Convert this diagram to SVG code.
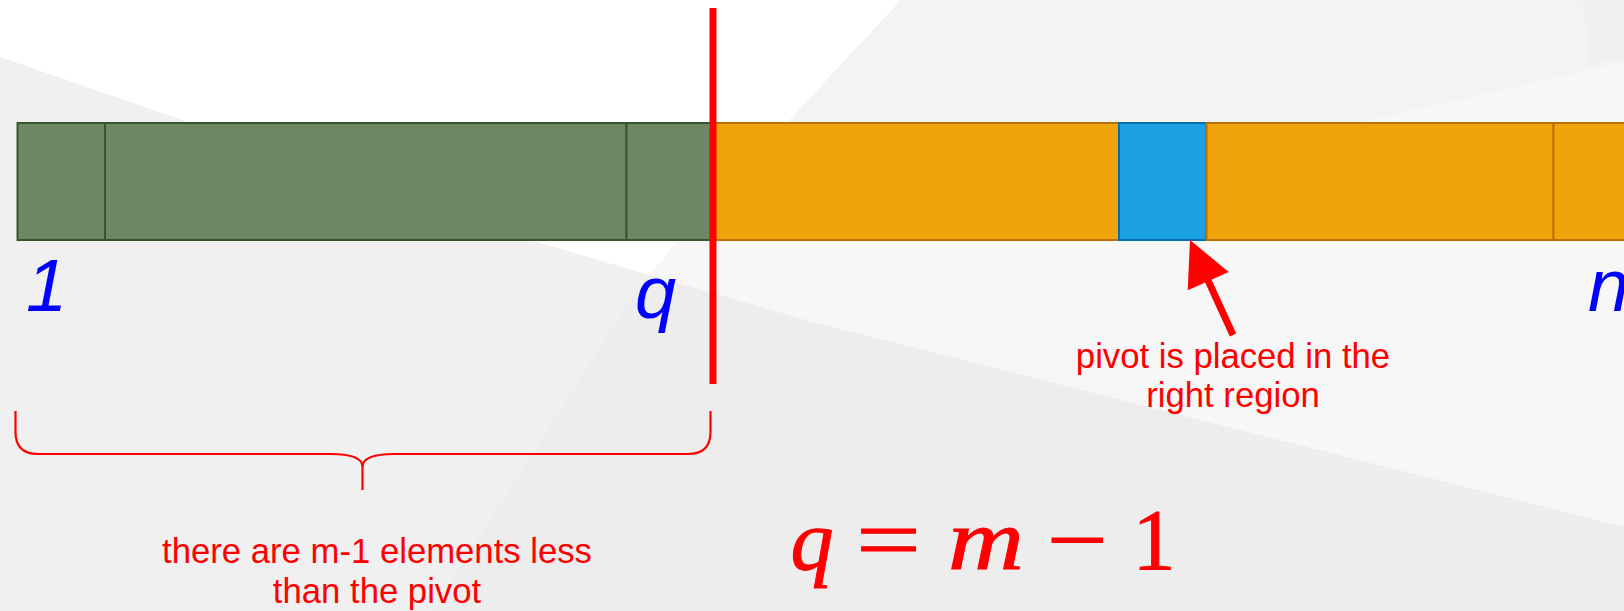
<svg xmlns="http://www.w3.org/2000/svg" width="1624" height="611" viewBox="0 0 1624 611">
<style>
.g{fill:#6d8764;stroke:#3a5431;stroke-width:2}
.o{fill:#f0a30a;stroke:#bd7000;stroke-width:2}
.b{fill:#1ba1e2;stroke:#006eaf;stroke-width:2}
.idx{font-family:"Liberation Sans",Arial,sans-serif;font-style:italic;font-size:74px;fill:#0000ff}
.note{font-family:"Liberation Sans",Arial,sans-serif;font-size:34.7px;fill:#ff0000;text-anchor:middle}
.eq{font-family:"Liberation Serif","Times New Roman",serif;font-size:86px;fill:#ff0000;stroke:#ff0000;stroke-width:1}
.red{stroke:#ff0000;fill:none}
</style>
<g id="background">
<rect x="0" y="0" width="1624" height="611" fill="#f0f0f0"/>
<polygon points="0,0 901,0 787,123 678,240 650,275 533,241 0,57" fill="#ffffff"/>
<polygon points="901,0 1624,0 1624,62 1356,123 787,123" fill="#f3f3f3"/>
<polygon points="1583,0 1624,0 1624,58 1591,64" fill="#f0f0f0"/>
<polygon points="787,123 1356,123 1624,62 1624,527 812,322 650,275 678,240" fill="#f7f7f7"/>
<polygon points="650,275 812,322 1624,527 1624,611 432,611 630,300" fill="#ededed"/>
</g>
<g id="array">
<g id="cell-g1"><rect class="g" x="17.5" y="123" width="87.5" height="117"/></g>
<g id="cell-g2"><rect class="g" x="105" y="123" width="521.5" height="117"/></g>
<g id="cell-g3"><rect class="g" x="626.5" y="123" width="86.5" height="117"/></g>
<g id="cell-o1"><rect class="o" x="713" y="123" width="406" height="117"/></g>
<g id="cell-pivot"><rect class="b" x="1119" y="123" width="87.5" height="117"/></g>
<g id="cell-o2"><rect class="o" x="1206.5" y="123" width="347" height="117"/></g>
<g id="cell-o3"><rect class="o" x="1553.5" y="123" width="87" height="117"/></g>
</g>
<g id="divider"><line class="red" x1="713" y1="8" x2="713" y2="384" stroke-width="7"/></g>
<g id="label-1"><text class="idx" x="26" y="311">1</text></g>
<g id="label-q"><text class="idx" x="635" y="318">q</text></g>
<g id="label-n"><text class="idx" x="1588" y="311">n</text></g>
<g id="brace"><path class="red" stroke-width="2.2" d="M15.5 411 V432 Q15.5 454 38 454 H331 Q362.5 454 362.5 467 V490 M362.5 467 Q362.5 454 394 454 H688 Q710.5 454 710.5 432 V411"/></g>
<g id="note-less"><text class="note"><tspan x="377" y="563">there are m-1 elements less</tspan><tspan x="377" y="603">than the pivot</tspan></text></g>
<g id="note-pivot"><text class="note"><tspan x="1233" y="368">pivot is placed in the</tspan><tspan x="1233" y="407">right region</tspan></text></g>
<g id="connectors">
<line class="red" x1="1233" y1="335" x2="1206" y2="276" stroke-width="7"/>
<polygon points="1190,240 1187.7,290.2 1228.7,272" fill="#ff0000"/>
</g>
<g id="equation">
<text class="eq" x="812" y="569" font-style="italic" text-anchor="middle">q</text>
<text class="eq" x="856" y="569" textLength="65" lengthAdjust="spacingAndGlyphs">=</text>
<text class="eq" x="948" y="569" font-style="italic" textLength="76" lengthAdjust="spacingAndGlyphs">m</text>
<text class="eq" x="1047" y="569" textLength="61" lengthAdjust="spacingAndGlyphs">−</text>
<text class="eq" x="1154" y="569" text-anchor="middle">1</text>
</g>
</svg>
